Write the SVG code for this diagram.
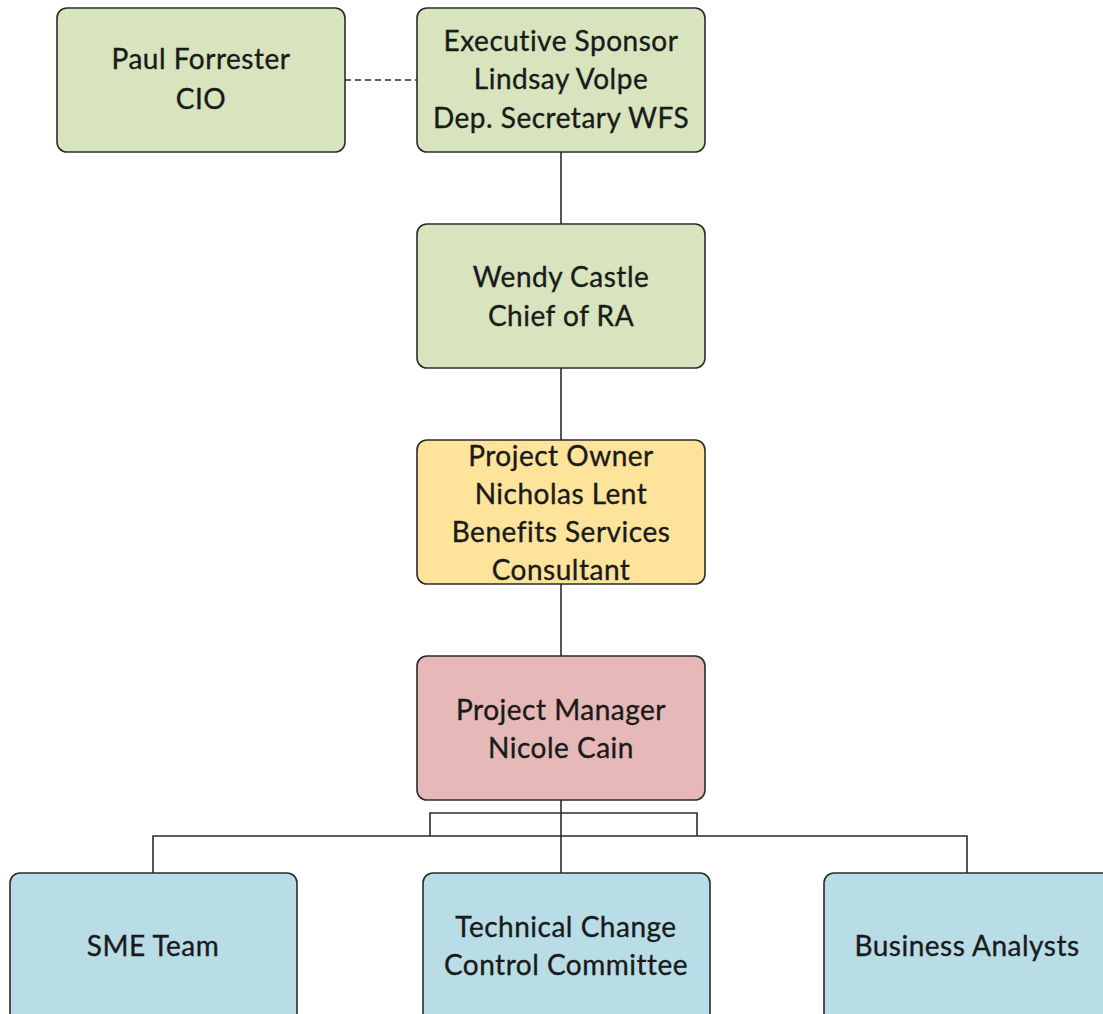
<svg xmlns="http://www.w3.org/2000/svg" width="1103" height="1014" viewBox="0 0 1103 1014">
<style>
.box{stroke:#2b2b2b;stroke-width:1.6}
.g{fill:#d7e4bd}.y{fill:#fee49b}.p{fill:#e6b9b8}.b{fill:#b8dde7}
text{font-family:Lato,"Open Sans",sans-serif;font-size:28px;letter-spacing:0.5px;font-variant-ligatures:none;fill:#1a1a1a;stroke:#1a1a1a;stroke-width:0.35;text-anchor:middle}
.c{stroke:#2b2b2b;stroke-width:1.6;fill:none}
</style>
<rect width="1103" height="1014" fill="#fff"/>
<g id="connectors">
<line class="c" x1="345" y1="80" x2="417" y2="80" stroke-dasharray="6,4"/>
<line class="c" x1="561" y1="152" x2="561" y2="224"/>
<line class="c" x1="561" y1="368" x2="561" y2="440"/>
<line class="c" x1="561" y1="584" x2="561" y2="656"/>
<line class="c" x1="561" y1="800" x2="561" y2="873"/>
<polyline class="c" points="430,836 430,813 697,813 697,836"/>
<polyline class="c" points="153,873 153,836 967,836 967,873"/>
</g>
<g id="paul"><rect class="box g" x="57" y="8" width="288" height="144" rx="10"/><text x="201" y="69">Paul Forrester</text><text x="201" y="109">CIO</text></g>
<g id="exec"><rect class="box g" x="417" y="8" width="288" height="144" rx="10"/><text x="561" y="51">Executive Sponsor</text><text x="561" y="89">Lindsay Volpe</text><text x="561" y="128">Dep. Secretary WFS</text></g>
<g id="wendy"><rect class="box g" x="417" y="224" width="288" height="144" rx="10"/><text x="561" y="287">Wendy Castle</text><text x="561" y="326">Chief of RA</text></g>
<g id="owner"><rect class="box y" x="417" y="440" width="288" height="144" rx="10"/><text x="561" y="466">Project Owner</text><text x="561" y="504">Nicholas Lent</text><text x="561" y="542">Benefits Services</text><text x="561" y="580">Consultant</text></g>
<g id="pm"><rect class="box p" x="417" y="656" width="288" height="144" rx="10"/><text x="561" y="720">Project Manager</text><text x="561" y="758">Nicole Cain</text></g>
<g id="sme"><rect class="box b" x="10" y="873" width="287" height="160" rx="10"/><text x="153" y="956">SME Team</text></g>
<g id="tccc"><rect class="box b" x="423" y="873" width="287" height="160" rx="10"/><text x="566" y="937">Technical Change</text><text x="566" y="975">Control Committee</text></g>
<g id="ba"><rect class="box b" x="824" y="873" width="300" height="160" rx="10"/><text x="967" y="956">Business Analysts</text></g>
</svg>
